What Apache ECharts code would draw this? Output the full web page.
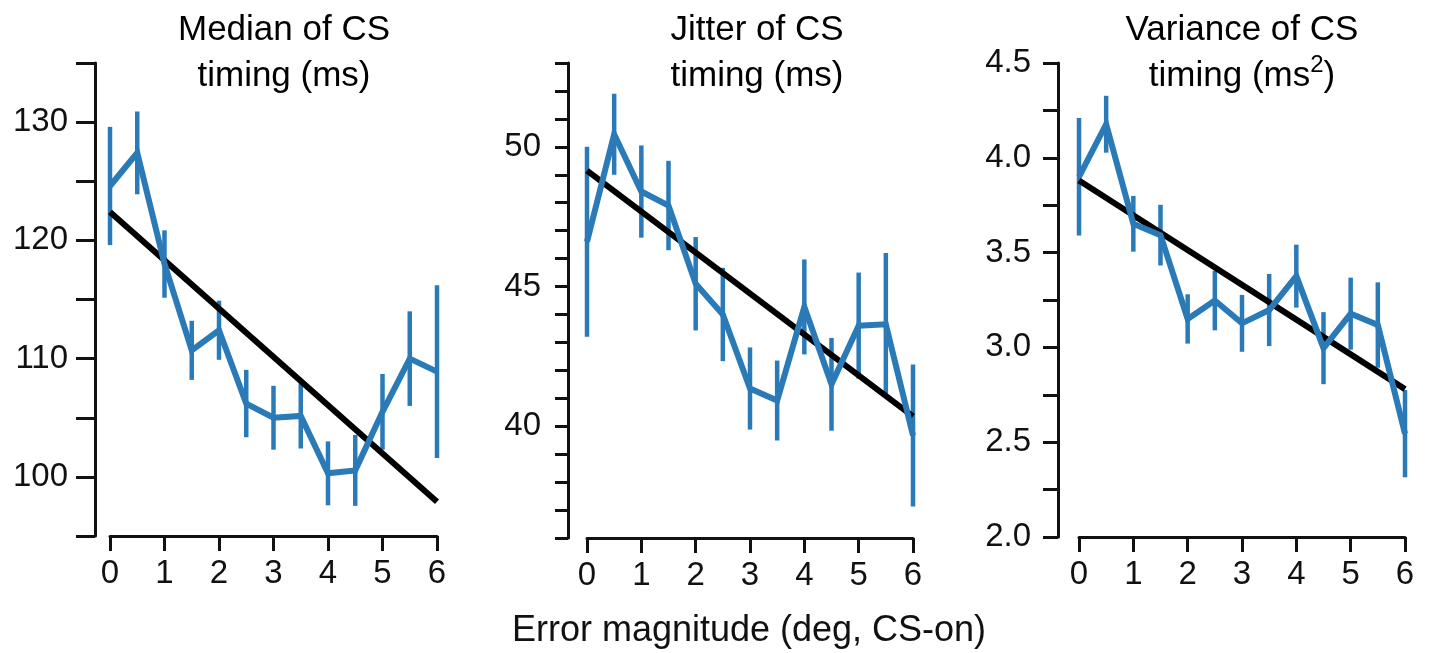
<!DOCTYPE html>
<html>
<head>
<meta charset="utf-8">
<script src="https://cdn.jsdelivr.net/npm/echarts@6/dist/echarts.min.js"></script>
<style>
  html, body { margin: 0; padding: 0; background: #fff; }
  #chart { width: 1431px; height: 653px; }
</style>
</head>
<body>
<div id="chart"></div>
<script>
// error magnitude bins (deg)
const xs = [0, 0.5, 1, 1.5, 2, 2.5, 3, 3.5, 4, 4.5, 5, 5.5, 6];

// median of CS timing (ms)
const medianMean = [124.6, 127.4, 118.0, 110.7, 112.4, 106.2, 105.0, 105.15, 100.3, 100.55, 105.5, 110.0, 108.9];
const medianErr = [5.0, 3.5, 2.85, 2.5, 2.5, 2.85, 2.7, 2.75, 2.7, 3.0, 3.2, 4.0, 7.3];
const medianFit = [122.4, 97.9];

// jitter of CS timing (ms)
const jitterMean = [46.6, 50.45, 48.4, 47.9, 45.1, 44.0, 41.35, 40.92, 44.27, 41.5, 43.6, 43.65, 39.67];
const jitterErr = [3.4, 1.45, 1.65, 1.6, 1.67, 1.67, 1.47, 1.43, 1.7, 1.66, 1.9, 2.55, 2.54];
const jitterFit = [49.15, 40.35];

// variance of CS timing (ms^2)
const varMean = [3.9, 4.177, 3.652, 3.592, 3.15, 3.247, 3.127, 3.197, 3.376, 2.996, 3.178, 3.118, 2.545];
const varErr = [0.31, 0.15, 0.147, 0.16, 0.13, 0.157, 0.15, 0.19, 0.166, 0.19, 0.19, 0.225, 0.23];
const varFit = [3.88, 2.78];

const xTicks = [0, 1, 2, 3, 4, 5, 6];

const BLUE = '#2a7ab8';
const INK = '#111';
const FONT = 'Liberation Sans, Arial, sans-serif';

const myChart = echarts.init(document.getElementById('chart'));

function errRender(params, api) {
  const lo = api.coord([api.value(0), api.value(1)]);
  const hi = api.coord([api.value(0), api.value(2)]);
  return {
    type: 'line',
    shape: {x1: lo[0], y1: lo[1], x2: hi[0], y2: hi[1]},
    style: {stroke: BLUE, lineWidth: 4.5}
  };
}

// panel layout: grid box, y range, tick step, label test, y-axis offset
const panels = [
  {left: 110, width: 327, top: 63, height: 473, min: 95, max: 135, step: 5, off: 15, tick: 19,
   lab: v => (v % 10 === 0 && v >= 100 && v <= 130) ? String(v) : '',
   mean: medianMean, err: medianErr, fit: medianFit},
  {left: 587, width: 326, top: 63, height: 475, min: 36, max: 53, step: 1, off: 19, tick: 13,
   lab: v => (v === 40 || v === 45 || v === 50) ? String(v) : '',
   mean: jitterMean, err: jitterErr, fit: jitterFit},
  {left: 1079, width: 326, top: 63, height: 474, min: 2, max: 4.5, step: 0.25, off: 21, tick: 15,
   lab: v => (Math.abs(v * 2 - Math.round(v * 2)) < 1e-6) ? v.toFixed(1) : '',
   mean: varMean, err: varErr, fit: varFit}
];

const grid = [], xAxis = [], yAxis = [], series = [];
panels.forEach(function (p, i) {
  grid.push({left: p.left, top: p.top, width: p.width, height: p.height,
    containLabel: false, outerBoundsMode: 'none'});
  xAxis.push({
    type: 'value', gridIndex: i, min: 0, max: 6, interval: 1,
    axisLine: {show: true, onZero: false, lineStyle: {color: INK, width: 3}},
    axisTick: {show: true, length: 15, lineStyle: {color: INK, width: 3}},
    axisLabel: {fontSize: 33, color: INK, fontFamily: FONT, margin: 21,
      formatter: v => xTicks.indexOf(v) >= 0 ? String(v) : ''},
    splitLine: {show: false}
  });
  yAxis.push({
    type: 'value', gridIndex: i, min: p.min, max: p.max, interval: p.step, offset: p.off,
    axisLine: {show: true, onZero: false, lineStyle: {color: INK, width: 3}},
    axisTick: {show: true, length: p.tick, lineStyle: {color: INK, width: 3}},
    axisLabel: {fontSize: 33, color: INK, fontFamily: FONT, margin: 27, formatter: p.lab},
    splitLine: {show: false}
  });
  series.push({
    type: 'custom', xAxisIndex: i, yAxisIndex: i, z: 2,
    renderItem: errRender,
    data: xs.map((x, k) => [x, p.mean[k] - p.err[k], p.mean[k] + p.err[k]])
  });
  series.push({
    type: 'line', xAxisIndex: i, yAxisIndex: i, z: 3, showSymbol: false,
    data: [[0, p.fit[0]], [6, p.fit[1]]],
    lineStyle: {color: '#000', width: 6, cap: 'butt'}
  });
  series.push({
    type: 'line', xAxisIndex: i, yAxisIndex: i, z: 4, showSymbol: false,
    data: xs.map((x, k) => [x, p.mean[k]]),
    lineStyle: {color: BLUE, width: 6, join: 'miter'}
  });
});

const titleRich = {
  t: {fontSize: 35, fontFamily: FONT, color: INK, lineHeight: 46},
  s: {fontSize: 24, fontFamily: FONT, color: INK, lineHeight: 28, verticalAlign: 'top'}
};

let option = {
  animation: false,
  grid: grid,
  xAxis: xAxis,
  yAxis: yAxis,
  series: series,
  graphic: [
    {type: 'text', x: 284, y: 7, style: {text: '{t|Median of CS}\n{t|timing (ms)}',
      rich: titleRich, align: 'center', verticalAlign: 'top'}},
    {type: 'text', x: 757, y: 7, style: {text: '{t|Jitter of CS}\n{t|timing (ms)}',
      rich: titleRich, align: 'center', verticalAlign: 'top'}},
    {type: 'text', x: 1242, y: 7, style: {text: '{t|Variance of CS}\n{t|timing (ms}{s|2}{t|)}',
      rich: titleRich, align: 'center', verticalAlign: 'top'}},
    {type: 'text', x: 749, y: 613, style: {text: 'Error magnitude (deg, CS-on)',
      fontSize: 36, fontFamily: FONT, fill: INK, align: 'center', verticalAlign: 'top'}}
  ]
};

option && myChart.setOption(option);
</script>
</body>
</html>
